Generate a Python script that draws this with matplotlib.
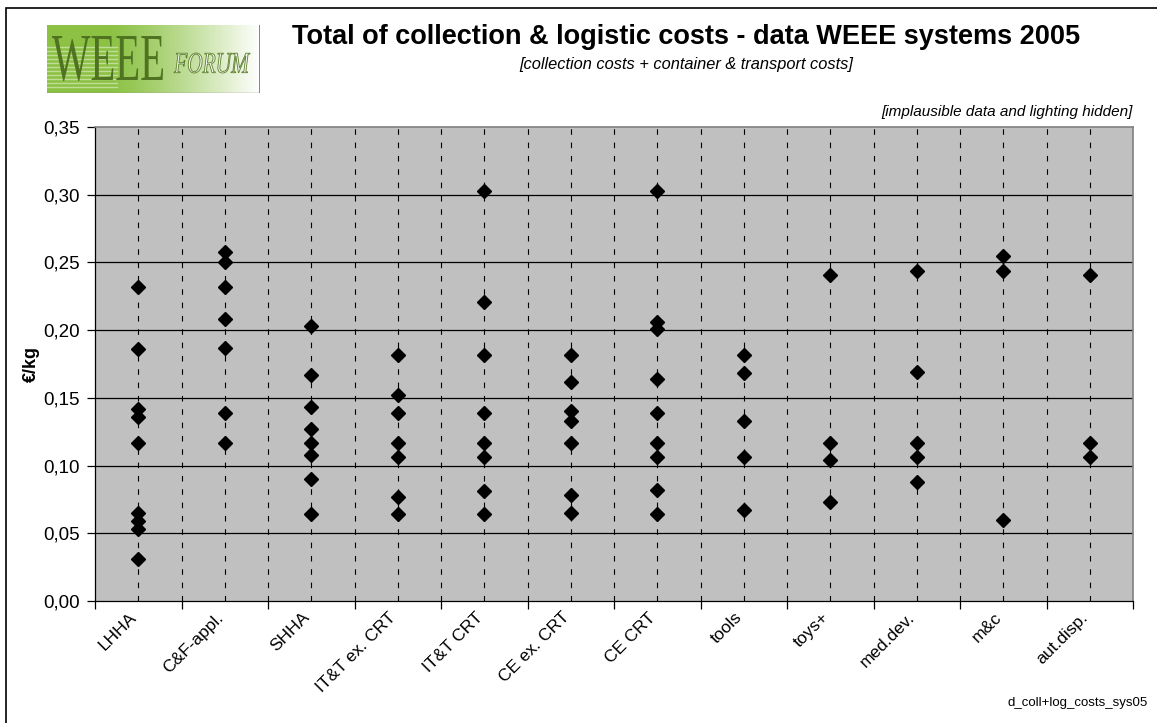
import numpy as np
import matplotlib
matplotlib.use("Agg")
import matplotlib.pyplot as plt
from matplotlib.textpath import TextPath
from matplotlib.patches import PathPatch, Rectangle
from matplotlib.font_manager import FontProperties
from matplotlib.transforms import Affine2D, offset_copy

plt.rcParams['font.family'] = ['Liberation Sans', 'DejaVu Sans']

# categories and the cost values (euro/kg)
categories = ["LHHA", "C&F-appl.", "SHHA", "IT&T ex. CRT", "IT&T CRT", "CE ex. CRT",
              "CE CRT", "tools", "toys+", "med.dev.", "m&c", "aut.disp."]
lhha = [0.232, 0.186, 0.142, 0.136, 0.117, 0.065, 0.059, 0.053, 0.031]
cf_appl = [0.258, 0.250, 0.232, 0.208, 0.187, 0.139, 0.117]
shha = [0.203, 0.167, 0.143, 0.127, 0.117, 0.108, 0.090, 0.064]
itt_ex_crt = [0.182, 0.152, 0.139, 0.117, 0.106, 0.077, 0.064]
itt_crt = [0.303, 0.221, 0.182, 0.139, 0.117, 0.106, 0.081, 0.064]
ce_ex_crt = [0.182, 0.162, 0.140, 0.133, 0.117, 0.078, 0.065]
ce_crt = [0.303, 0.206, 0.201, 0.164, 0.139, 0.117, 0.106, 0.082, 0.064]
tools = [0.182, 0.168, 0.133, 0.106, 0.067]
toys = [0.241, 0.117, 0.104, 0.073]
med_dev = [0.244, 0.169, 0.117, 0.106, 0.088]
m_c = [0.255, 0.244, 0.060]
aut_disp = [0.241, 0.117, 0.106]
series = [lhha, cf_appl, shha, itt_ex_crt, itt_crt, ce_ex_crt,
          ce_crt, tools, toys, med_dev, m_c, aut_disp]
yticks = [0.0, 0.05, 0.10, 0.15, 0.20, 0.25, 0.30, 0.35]

W, H = 1157, 723
fig = plt.figure(figsize=(W / 100, H / 100), dpi=100)

# outer frame (left and top edges visible)
fig.add_artist(Rectangle((6 / W, -0.1), 1.2, 1 - 8 / H + 0.1, transform=fig.transFigure,
                         fill=False, edgecolor="black", lw=1.2))

ax = fig.add_axes([95 / W, 1 - 601 / H, (1133 - 95) / W, (601 - 127) / H])
ax.set_facecolor("#c0c0c0")
ax.set_xlim(0, 12)
ax.set_ylim(0, 0.35)

for s in ["top", "right"]:
    ax.spines[s].set_color("#808080")
    ax.spines[s].set_linewidth(1.2)
for s in ["left", "bottom"]:
    ax.spines[s].set_color("black")
    ax.spines[s].set_linewidth(0.9)

# horizontal grid
for v in yticks[1:-1]:
    ax.axhline(v, color="black", lw=0.9, zorder=1)
# vertical dashed lines at category centres and boundaries
for xv in np.arange(0.5, 12, 0.5):
    ax.axvline(xv, color="black", lw=0.8, ls=(0, (5, 7)), zorder=1)

for i, vals in enumerate(series):
    ax.plot([i + 0.5] * len(vals), vals, "D", color="black", ms=7, zorder=3,
            clip_on=False)

ax.set_yticks(yticks)
ax.set_yticklabels([("%.2f" % v).replace(".", ",") for v in yticks], fontsize=13.5)
ax.tick_params(axis="y", direction="out", length=6, width=0.9, pad=5)
ax.set_xticks(range(13))
ax.set_xticklabels([])
ax.tick_params(axis="x", direction="out", length=6, width=0.9)

lab_tr = offset_copy(ax.transData, fig=fig, x=-4, y=-14, units="dots")
for i, c in enumerate(categories):
    ax.text(i + 0.5, 0, c, transform=lab_tr, rotation=45, rotation_mode="anchor",
            ha="right", va="center", fontsize=12.5)

ax.set_ylabel("€/kg", fontsize=13, fontweight="bold", labelpad=2)

fig.text(686 / W, 1 - 37 / H, "Total of collection & logistic costs - data WEEE systems 2005",
         ha="center", va="center", fontsize=19.5, fontweight="bold")
fig.text(686 / W, 1 - 64 / H, "[collection costs + container & transport costs]",
         ha="center", va="center", fontsize=11.8, style="italic")
fig.text(1133 / W, 1 - 112 / H, "[implausible data and lighting hidden]",
         ha="right", va="center", fontsize=11, style="italic")
fig.text(1148 / W, 1 - 703 / H, "d_coll+log_costs_sys05", ha="right", va="center",
         fontsize=9.5)

# logo
lx0, ly0, lw_, lh_ = 47, 25, 213, 68
lax = fig.add_axes([lx0 / W, 1 - (ly0 + lh_) / H, lw_ / W, lh_ / H])
lax.set_xlim(0, lw_)
lax.set_ylim(0, lh_)
lax.axis("off")
t = np.linspace(0, 1, 300)
fade = np.clip((t - 0.3) / 0.7, 0, 1) ** 1.2
green = np.array([0.55, 0.76, 0.27])
row = green[None, :] * (1 - fade[:, None]) + np.ones(3)[None, :] * fade[:, None]
img = np.repeat(row[None, :, :], 2, axis=0)
lax.imshow(img, extent=[0, lw_, 0, lh_], aspect="auto", zorder=0)
for yy in np.arange(6, 50, 4):
    lax.plot([0, 70], [yy, yy], color="white", lw=1.0, alpha=0.45, zorder=1)
lax.plot([lw_, lw_], [0, lh_], color="#707070", lw=1.2, zorder=4)
lax.plot([0, lw_], [0.3, 0.3], color="#909090", lw=1.0, zorder=4)


def put_text(axl, s, prop, box, fc, ec, lw):
    tp = TextPath((0, 0), s, size=1, prop=prop)
    ext = tp.get_extents()
    x0, y0, x1, y1 = box
    tr = Affine2D().translate(-ext.x0, -ext.y0).scale((x1 - x0) / ext.width,
                                                      (y1 - y0) / ext.height).translate(x0, y0)
    axl.add_patch(PathPatch(tp, transform=tr + axl.transData, facecolor=fc,
                            edgecolor=ec, lw=lw, zorder=3))


put_text(lax, "WEEE", FontProperties(family="Liberation Serif"), (5, 12, 116, 57),
         "#4f7320", "none", 0)
put_text(lax, "FORUM", FontProperties(family="Liberation Serif", style="italic"),
         (127, 20, 203, 40), "#f4f8ee", "#5a7d2a", 0.6)

fig.savefig("out.png", dpi=100)
